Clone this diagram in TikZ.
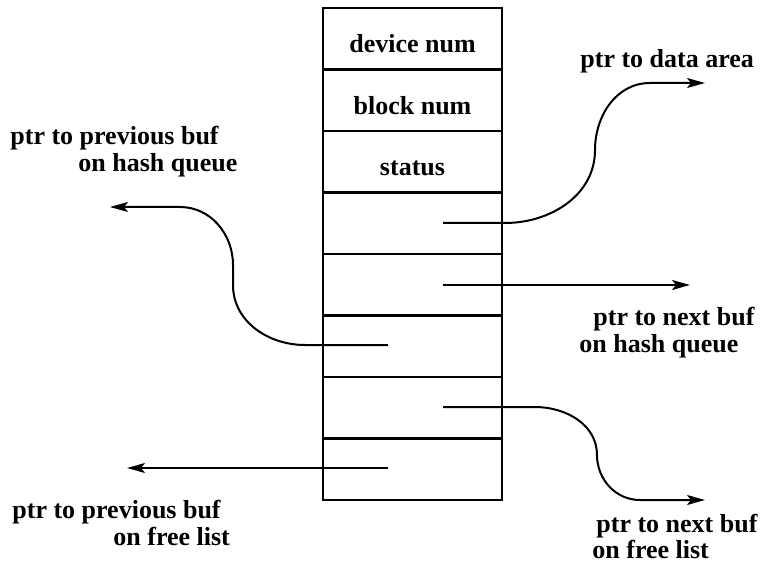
\documentclass[tikz,border=0pt]{standalone}
\usepackage{fontspec}
\setmainfont{Liberation Serif}
\usetikzlibrary{arrows.meta}
\begin{document}
\begin{tikzpicture}
  [x=0.5pt,y=-0.5pt,font=\fontsize{13}{15}\selectfont\bfseries,
   slot/.style={draw,line width=1.3pt,minimum width=89.5pt,minimum height=30.75pt,
     inner sep=0pt,text height=14pt,text depth=0pt},
   lbl/.style={anchor=base west,inner sep=0pt},
   ptr/.style={line width=1pt,-{Stealth[length=9pt,width=5pt,inset=2pt]}}]
  \useasboundingbox (0,0) rectangle (771,577);

  \node[slot] (dev) at (412.5,38.75) {device num};
  \node[slot] (blk) at (412.5,100.25) {block num};
  \node[slot] (stat) at (412.5,161.75) {status};
  \node[slot] (data) at (412.5,223.25) {};
  \node[slot] (hnext) at (412.5,284.75) {};
  \node[slot] (hprev) at (412.5,346.25) {};
  \node[slot] (fnext) at (412.5,407.75) {};
  \node[slot] (fprev) at (412.5,469.25) {};

  \coordinate (data0) at (443,223);
  \coordinate (data1) at (705,83);
  \coordinate (hnext0) at (443,285);
  \coordinate (hnext1) at (690,285);
  \coordinate (hprev0) at (388,345);
  \coordinate (hprev1) at (110,207);
  \coordinate (fnext0) at (443,407);
  \coordinate (fnext1) at (705,500);
  \coordinate (fprev0) at (388,468);
  \coordinate (fprev1) at (127,468);

  \draw[ptr] (data0) -- (505,223) to[out=0,in=-90] (595,150)
    to[out=90,in=180] (650,83) -- (data1);
  \draw[ptr] (hnext0) -- (hnext1);
  \draw[ptr] (hprev0) -- (305,345) to[out=180,in=-90] (233,285) -- (233,265)
    to[out=90,in=0] (180,207) -- (hprev1);
  \draw[ptr] (fnext0) -- (535,407) to[out=0,in=90] (597,455)
    to[out=-90,in=180] (640,500) -- (fnext1);
  \draw[ptr] (fprev0) -- (fprev1);

  \node[lbl] (dataLbl) at (580,68) {ptr to data area};
  \node[lbl] (hnextLbl) at (593,325) {ptr to next buf};
  \node[lbl] (hnextLblb) at (579,352) {on hash queue};
  \node[lbl] (hprevLbl) at (10,145) {ptr to previous buf};
  \node[lbl] (hprevLblb) at (78,172) {on hash queue};
  \node[lbl] (fnextLbl) at (596,532) {ptr to next buf};
  \node[lbl] (fnextLblb) at (592,558) {on free list};
  \node[lbl] (fprevLbl) at (12,518) {ptr to previous buf};
  \node[lbl] (fprevLblb) at (113,545) {on free list};
\end{tikzpicture}
\end{document}
